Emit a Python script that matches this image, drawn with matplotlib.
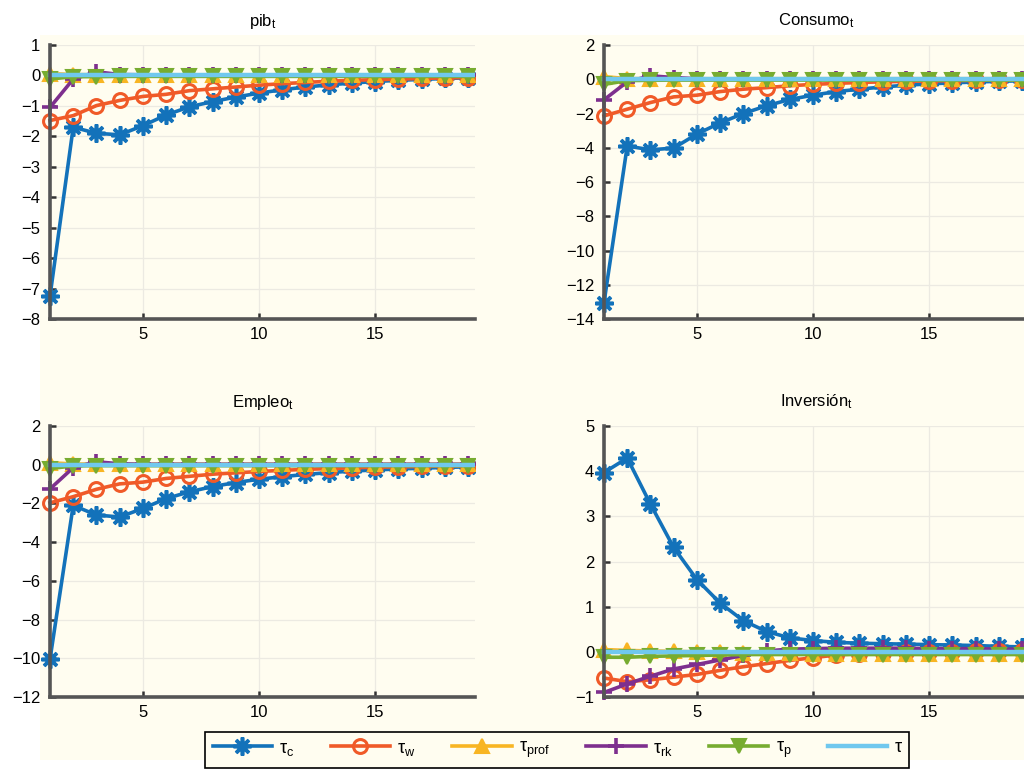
import matplotlib
matplotlib.use("Agg")
import matplotlib.pyplot as plt
import numpy as np
from matplotlib.patches import Rectangle
from matplotlib.ticker import MultipleLocator

plt.rcParams['font.family'] = ['Liberation Sans', 'DejaVu Sans']
plt.rcParams['mathtext.fontset'] = 'custom'
plt.rcParams['mathtext.rm'] = 'Liberation Sans'
plt.rcParams['mathtext.it'] = 'Liberation Sans'

# periods
t = np.arange(1, 21)

# pib_t
pib_tc = [-7.25, -1.70, -1.90, -1.95, -1.65, -1.30, -1.03, -0.86, -0.71, -0.58,
          -0.47, -0.38, -0.31, -0.25, -0.20, -0.16, -0.13, -0.10, -0.08, -0.06]
pib_tw = [-1.48, -1.32, -0.99, -0.82, -0.69, -0.62, -0.50, -0.44, -0.38, -0.32,
          -0.27, -0.23, -0.19, -0.16, -0.14, -0.12, -0.10, -0.08, -0.07, -0.06]
pib_tprof = [0.06, 0.03, 0.02, 0.02, 0.02, 0.02, 0.02, 0.02, 0.02, 0.02,
             0.02, 0.02, 0.02, 0.02, 0.02, 0.02, 0.02, 0.02, 0.02, 0.02]
pib_trk = [-1.05, -0.12, 0.12, 0.03, 0.02, 0.01, 0.01, 0.01, 0.01, 0.01,
           0.01, 0.01, 0.01, 0.01, 0.01, 0.01, 0.01, 0.01, 0.01, 0.01]
pib_tp = [-0.12, -0.04, -0.04, -0.03, -0.03, -0.03, -0.03, -0.03, -0.03, -0.03,
          -0.03, -0.03, -0.03, -0.03, -0.03, -0.03, -0.03, -0.03, -0.03, -0.03]
pib_tau = [0.0, 0.0, 0.0, 0.0, 0.0, 0.0, 0.0, 0.0, 0.0, 0.0,
           0.0, 0.0, 0.0, 0.0, 0.0, 0.0, 0.0, 0.0, 0.0, 0.0]

# Consumo_t
con_tc = [-13.05, -3.90, -4.12, -4.02, -3.20, -2.55, -2.00, -1.55, -1.18, -0.93,
          -0.72, -0.58, -0.45, -0.35, -0.27, -0.21, -0.16, -0.12, -0.09, -0.07]
con_tw = [-2.14, -1.75, -1.36, -1.03, -0.93, -0.72, -0.58, -0.49, -0.38, -0.30,
          -0.24, -0.19, -0.15, -0.12, -0.10, -0.08, -0.06, -0.05, -0.04, -0.03]
con_tprof = [0.15, 0.04, 0.03, 0.03, 0.03, 0.03, 0.03, 0.03, 0.03, 0.03,
             0.03, 0.03, 0.03, 0.03, 0.03, 0.03, 0.03, 0.03, 0.03, 0.03]
con_trk = [-1.20, -0.15, 0.20, 0.10, 0.03, 0.02, 0.02, 0.02, 0.02, 0.02,
           0.02, 0.02, 0.02, 0.02, 0.02, 0.02, 0.02, 0.02, 0.02, 0.02]
con_tp = [-0.30, -0.08, -0.06, -0.05, -0.05, -0.05, -0.05, -0.05, -0.05, -0.05,
          -0.05, -0.05, -0.05, -0.05, -0.05, -0.05, -0.05, -0.05, -0.05, -0.05]
con_tau = [0.0, 0.0, 0.0, 0.0, 0.0, 0.0, 0.0, 0.0, 0.0, 0.0,
           0.0, 0.0, 0.0, 0.0, 0.0, 0.0, 0.0, 0.0, 0.0, 0.0]

# Empleo_t
emp_tc = [-10.05, -2.10, -2.60, -2.70, -2.26, -1.75, -1.40, -1.13, -0.92, -0.75,
          -0.62, -0.50, -0.41, -0.33, -0.27, -0.22, -0.18, -0.14, -0.11, -0.09]
emp_tw = [-1.97, -1.65, -1.27, -0.99, -0.90, -0.71, -0.60, -0.49, -0.42, -0.35,
          -0.29, -0.24, -0.20, -0.16, -0.13, -0.11, -0.09, -0.07, -0.06, -0.05]
emp_tprof = [0.10, 0.04, 0.03, 0.03, 0.03, 0.03, 0.03, 0.03, 0.03, 0.03,
             0.03, 0.03, 0.03, 0.03, 0.03, 0.03, 0.03, 0.03, 0.03, 0.03]
emp_trk = [-1.25, -0.15, 0.15, 0.05, 0.02, 0.02, 0.02, 0.02, 0.02, 0.02,
           0.02, 0.02, 0.02, 0.02, 0.02, 0.02, 0.02, 0.02, 0.02, 0.02]
emp_tp = [-0.20, -0.06, -0.05, -0.05, -0.05, -0.05, -0.05, -0.05, -0.05, -0.05,
          -0.05, -0.05, -0.05, -0.05, -0.05, -0.05, -0.05, -0.05, -0.05, -0.05]
emp_tau = [0.0, 0.0, 0.0, 0.0, 0.0, 0.0, 0.0, 0.0, 0.0, 0.0,
           0.0, 0.0, 0.0, 0.0, 0.0, 0.0, 0.0, 0.0, 0.0, 0.0]

# Inversión_t
inv_tc = [3.97, 4.29, 3.27, 2.31, 1.60, 1.08, 0.69, 0.45, 0.31, 0.25,
          0.21, 0.19, 0.18, 0.17, 0.16, 0.15, 0.14, 0.12, 0.11, 0.10]
inv_tw = [-0.58, -0.66, -0.62, -0.56, -0.50, -0.41, -0.33, -0.26, -0.19, -0.13,
          -0.07, -0.04, -0.02, -0.01, 0.00, 0.00, 0.01, 0.01, 0.01, 0.01]
inv_tprof = [0.05, 0.03, 0.02, 0.01, 0.00, -0.01, -0.02, -0.03, -0.03, -0.04,
             -0.04, -0.04, -0.05, -0.05, -0.05, -0.05, -0.05, -0.05, -0.05, -0.05]
inv_trk = [-0.90, -0.71, -0.54, -0.38, -0.28, -0.18, -0.08, 0.02, 0.06, 0.07,
           0.08, 0.08, 0.08, 0.08, 0.07, 0.07, 0.07, 0.06, 0.06, 0.06]
inv_tp = [-0.12, -0.12, -0.10, -0.09, -0.08, -0.07, -0.06, -0.06, -0.06, -0.06,
          -0.06, -0.06, -0.06, -0.06, -0.06, -0.06, -0.06, -0.06, -0.06, -0.06]
inv_tau = [0.0, 0.0, 0.0, 0.0, 0.0, 0.0, 0.0, 0.0, 0.0, 0.0,
           0.0, 0.0, 0.0, 0.0, 0.0, 0.0, 0.0, 0.0, 0.0, 0.0]

labels = ['τ$_\\mathrm{c}$', 'τ$_\\mathrm{w}$', 'τ$_\\mathrm{prof}$',
          'τ$_\\mathrm{rk}$', 'τ$_\\mathrm{p}$', 'τ']
colors = ['#1372BA', '#F05A28', '#F8B523', '#7E2F8E', '#77AC30', '#70C8EE']
markers = [(8, 2, 0), 'o', '^', '+', 'v', None]

panels = [
    ('pib$_\\mathrm{t}$', [pib_tc, pib_tw, pib_tprof, pib_trk, pib_tp, pib_tau], (-8, 1), 1),
    ('Consumo$_\\mathrm{t}$', [con_tc, con_tw, con_tprof, con_trk, con_tp, con_tau], (-14, 2), 2),
    ('Empleo$_\\mathrm{t}$', [emp_tc, emp_tw, emp_tprof, emp_trk, emp_tp, emp_tau], (-12, 2), 2),
    ('Inversión$_\\mathrm{t}$', [inv_tc, inv_tw, inv_tprof, inv_trk, inv_tp, inv_tau], (-1, 5), 1),
]

W, H = 1024, 770
bg = '#FFFDF0'
fig = plt.figure(figsize=(W / 100, H / 100), dpi=100, facecolor='white')
fig.patches.append(Rectangle((40 / W, 1 - 760 / H), (W - 40) / W, (760 - 35) / H,
                             transform=fig.transFigure, facecolor=bg, edgecolor='none', zorder=-10))

# axes boxes in pixels: left, top, right, bottom
boxes = [(50, 45, 475, 319), (604, 45, 1029, 319),
         (50, 426, 475, 697), (604, 426, 1029, 697)]

handles = []
for (title, series, ylim, ystep), (x0, y0, x1, y1) in zip(panels, boxes):
    ax = fig.add_axes([x0 / W, 1 - y1 / H, (x1 - x0) / W, (y1 - y0) / H])
    ax.set_facecolor(bg)
    # let the markers at t=1 spill over the left spine, but cut the right side
    clip = Rectangle((-0.06, -0.08), 1.06, 1.16, transform=ax.transAxes,
                     facecolor='none', edgecolor='none')
    handles = []
    for vals, c, m, lab in zip(series, colors, markers, labels):
        if m is None:
            h, = ax.plot(t, vals, color=c, lw=3.2, label=lab)
        elif m == 'o':
            h, = ax.plot(t, vals, color=c, lw=2.6, marker=m, ms=10, mfc='none', mew=2.2, label=lab)
        elif m in ('^', 'v'):
            h, = ax.plot(t, vals, color=c, lw=2.6, marker=m, ms=10.5, mfc=c, mew=1.5, label=lab)
        elif m == '+':
            h, = ax.plot(t, vals, color=c, lw=2.6, marker=m, ms=12, mew=2.6, label=lab)
        else:
            h, = ax.plot(t, vals, color=c, lw=2.6, marker=m, ms=13, mew=2.6, label=lab)
        h.set_clip_path(clip)
        handles.append(h)
    ax.set_xlim(1, 19.3)
    ax.set_ylim(*ylim)
    ax.xaxis.set_major_locator(MultipleLocator(5))
    ax.yaxis.set_major_locator(MultipleLocator(ystep))
    ax.grid(True, color='#ECEAE2', lw=0.9)
    ax.set_axisbelow(True)
    for s in ('top', 'right'):
        ax.spines[s].set_visible(False)
    for s in ('left', 'bottom'):
        ax.spines[s].set_color('#555555')
        ax.spines[s].set_linewidth(2.6)
    ax.tick_params(direction='in', length=4, width=1.8, color='#333333', labelsize=12)
    ax.tick_params(axis='y', pad=7)
    ax.tick_params(axis='x', pad=6)
    ax.set_title(title, fontsize=12, pad=14)

leg = fig.legend(handles, labels, loc='center', bbox_to_anchor=(557 / W, 1 - 750 / H),
                 ncol=6, fontsize=13, handlelength=3.3, columnspacing=2.0, handletextpad=0.4,
                 fancybox=False, edgecolor='black', facecolor=bg, framealpha=1,
                 borderpad=0.4)
leg.get_frame().set_linewidth(1.2)

fig.savefig('out.png', dpi=100, facecolor='white')
